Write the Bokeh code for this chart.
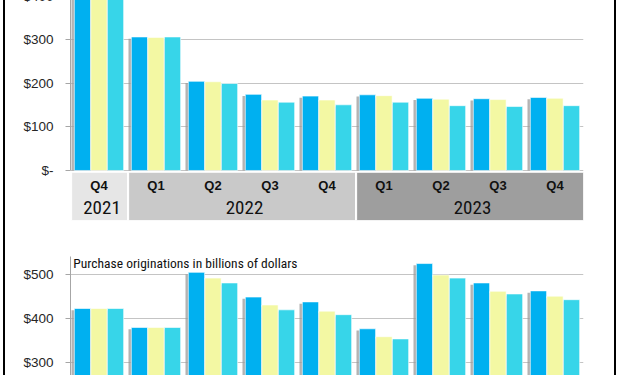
from bokeh.plotting import figure
from bokeh.layouts import column
from bokeh.models import ColumnDataSource, FactorRange, FixedTicker, Label, Range1d
from bokeh.transform import dodge
from bokeh.core.properties import value
from bokeh.embed import file_html
from bokeh.resources import INLINE

# ---------------- data ----------------
quarters = ["Q4", "Q1", "Q2", "Q3", "Q4", "Q1", "Q2", "Q3", "Q4"]
years = ["2021", "2022", "2022", "2022", "2022", "2023", "2023", "2023", "2023"]
year_groups = ["2021", "2022", "2023"]

# upper panel (billions of dollars)
top_a = [430, 307, 205, 175, 171, 174, 166, 165, 168]
top_b = [430, 306, 204, 162, 162, 172, 164, 163, 166]
top_c = [430, 307, 200, 157, 151, 157, 149, 147, 149]

# lower panel: purchase originations (billions of dollars)
pur_a = [422, 379, 504, 448, 437, 376, 524, 480, 462]
pur_b = [422, 379, 491, 430, 416, 358, 498, 461, 450]
pur_c = [422, 379, 480, 419, 408, 353, 491, 455, 442]

top_ticks = [0, 100, 200, 300, 400]
top_tick_labels = ["$-", "$100", "$200", "$300", "$400"]
bottom_ticks = [300, 400, 500]
bottom_tick_labels = ["$300", "$400", "$500"]
bottom_title = "Purchase originations in billions of dollars"

series_colors = ["#00B0F0", "#F3F8A3", "#37D5E9"]
band_colors = ["#E6E6E6", "#C9C9C9", "#9E9E9E"]

cats = [f"{q} {y}" for q, y in zip(quarters, years)]

BG = ("linear-gradient(#000,#000) 3px 0/2px 100% no-repeat, "
      "linear-gradient(#000,#000) 614px 0/2px 100% no-repeat, #fff")
TICK_FONT = "Liberation Sans"
YEAR_FONT = "Roboto Condensed"
TITLE_FONT = "Roboto Condensed"


def make_fig(height, yrange, btop, bbot, ticks, tick_labels):
    p = figure(width=620, height=height, x_range=FactorRange(*cats),
               y_range=Range1d(*yrange), output_backend="svg",
               toolbar_location=None, min_border_left=70, min_border_right=37,
               min_border_top=btop, min_border_bottom=bbot)
    p.border_fill_color = None
    p.background_fill_color = "white"
    p.outline_line_color = None
    p.xaxis.visible = False
    p.xgrid.visible = False
    p.ygrid.grid_line_color = "#C4C4C4"
    p.yaxis.ticker = FixedTicker(ticks=ticks)
    p.yaxis.major_label_overrides = {t: l for t, l in zip(ticks, tick_labels)}
    p.yaxis.major_tick_in = 0
    p.yaxis.major_tick_out = 5
    p.yaxis.minor_tick_line_color = None
    p.yaxis.axis_line_color = "#A6A6A6"
    p.yaxis.major_tick_line_color = "#A6A6A6"
    p.yaxis.major_label_standoff = 12
    p.yaxis.major_label_text_font = TICK_FONT
    p.yaxis.major_label_text_font_size = "13.5px"
    p.yaxis.major_label_text_color = "#262626"
    p.styles = {"background": BG}
    return p


def add_bars(p, a, b, c):
    src = ColumnDataSource(dict(cat=cats, a=a, b=b, c=c,
                                sa=[v - 4 for v in a], sb=[v - 4 for v in b],
                                sc=[v - 4 for v in c]))
    offs = [-0.29, 0.0, 0.29]
    for off, s in zip(offs, ["sa", "sb", "sc"]):
        p.vbar(x=dodge("cat", off - 0.05, range=p.x_range), top=s, bottom=0,
               width=0.285, source=src, fill_color="#9A9A9A", fill_alpha=0.75,
               line_color=None)
    for off, col, colr in zip(offs, ["a", "b", "c"], series_colors):
        p.vbar(x=dodge("cat", off, range=p.x_range), top=col, bottom=0,
               width=0.285, source=src, fill_color=colr, line_color="white",
               line_alpha=0.6, line_width=1)


# ---------------- upper panel ----------------
top = make_fig(252, (-115, 418.4), 0, 20, top_ticks, top_tick_labels)
top.yaxis.bounds = (0, 418.4)

# year bands under the axis
lefts, rights, centers = [], [], []
for yg in year_groups:
    idx = [i for i, y in enumerate(years) if y == yg]
    lefts.append(min(idx) + 0.02)
    rights.append(max(idx) + 1)
    centers.append((min(idx) + max(idx) + 1) / 2)
band_src = ColumnDataSource(dict(left=lefts, right=rights, color=band_colors,
                                 xc=centers, year=year_groups))
top.quad(left="left", right="right", top=-4, bottom=-115, source=band_src,
         fill_color="color", line_color="white", line_width=1)

add_bars(top, top_a, top_b, top_c)

qsrc = ColumnDataSource(dict(cat=cats, q=quarters))
top.text(x="cat", y=-34.5, text="q", source=qsrc, text_align="center",
         text_baseline="middle", text_font=value(TICK_FONT),
         text_font_size="13px", text_font_style="bold", text_color="#111111")
top.text(x="xc", y=-85, text="year", source=band_src, x_offset=3,
         text_align="center", text_baseline="middle", text_font=value(YEAR_FONT),
         text_font_size="19px", text_color="#111111")

# ---------------- lower panel ----------------
bot = make_fig(135, (270, 540), 16, 0, bottom_ticks, bottom_tick_labels)
add_bars(bot, pur_a, pur_b, pur_c)
bot.add_layout(Label(x=0.05, y=526, text=bottom_title, text_baseline="middle",
                     text_align="left", text_font=TITLE_FONT,
                     text_font_size="13.5px", text_color="#111111"))

layout = column(top, bot, spacing=0, margin=(-12, 0, 0, 0))

open("out.html", "w").write(file_html(layout, INLINE))
